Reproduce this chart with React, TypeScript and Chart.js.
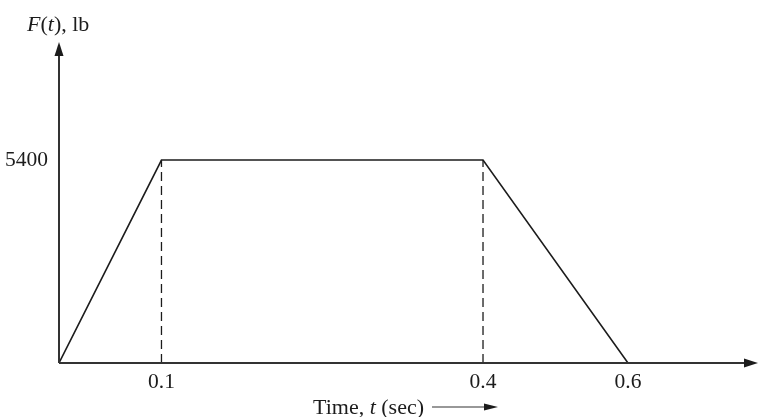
import React, { useEffect, useRef } from "react";
import { Chart, registerables, LinearScale } from "chart.js";

Chart.register(...registerables);

// ---- data ----
const timeValues = [0, 0.1, 0.4, 0.6];
const forceValues = [0, 5400, 5400, 0];
const xTickValues = [0.1, 0.4, 0.6];
const yTickValues = [5400];
const dashedAt = [0.1, 0.4];

// schematic (non-uniform) spacing of the time axis, as drawn in the figure
const warpValues = [0, 0.1, 0.4, 0.6, 0.75];
const warpFractions = [0, 0.1466, 0.6066, 0.814, 1];

function interp(v: number, xs: number[], ys: number[]) {
  if (v <= xs[0]) return ys[0];
  for (let i = 1; i < xs.length; i++) {
    if (v <= xs[i]) {
      const t = (v - xs[i - 1]) / (xs[i] - xs[i - 1]);
      return ys[i - 1] + t * (ys[i] - ys[i - 1]);
    }
  }
  const n = xs.length - 1;
  const t = (v - xs[n - 1]) / (xs[n] - xs[n - 1]);
  return ys[n - 1] + t * (ys[n] - ys[n - 1]);
}

class SchematicScale extends (LinearScale as any) {
  static id = "schematic";
  static defaults = (LinearScale as any).defaults;
  getPixelForValue(value: number) {
    return (this as any).getPixelForDecimal(interp(value, warpValues, warpFractions));
  }
  getValueForPixel(pixel: number) {
    return interp((this as any).getDecimalForPixel(pixel), warpFractions, warpValues);
  }
}
Chart.register(SchematicScale as any);

const FONT = "'Liberation Serif', 'Times New Roman', serif";
const INK = "#1c1c1c";

function drawMixed(ctx: CanvasRenderingContext2D, parts: [string, boolean][], x: number, y: number, size: number) {
  let cx = x;
  for (const [txt, italic] of parts) {
    ctx.font = `${italic ? "italic " : ""}${size}px ${FONT}`;
    ctx.fillText(txt, cx, y);
    cx += ctx.measureText(txt).width;
  }
  return cx;
}

const axesPlugin = {
  id: "axesArrows",
  afterDatasetsDraw(chart: any) {
    const { ctx, chartArea } = chart;
    const { left, right, top, bottom } = chartArea;
    ctx.save();
    ctx.strokeStyle = "#333";
    ctx.fillStyle = INK;
    ctx.lineWidth = 2;
    // x axis
    ctx.beginPath();
    ctx.moveTo(left, bottom);
    ctx.lineTo(right - 10, bottom);
    ctx.stroke();
    ctx.beginPath();
    ctx.moveTo(right, bottom);
    ctx.lineTo(right - 14, bottom - 4.5);
    ctx.lineTo(right - 14, bottom + 4.5);
    ctx.closePath();
    ctx.fill();
    // y axis
    ctx.beginPath();
    ctx.moveTo(left, bottom);
    ctx.lineTo(left, top + 10);
    ctx.stroke();
    ctx.beginPath();
    ctx.moveTo(left, top);
    ctx.lineTo(left - 4.5, top + 14);
    ctx.lineTo(left + 4.5, top + 14);
    ctx.closePath();
    ctx.fill();

    // axis titles
    ctx.textBaseline = "middle";
    ctx.textAlign = "left";
    drawMixed(ctx, [["F", true], ["(", false], ["t", true], ["), lb", false]], left - 32, top - 17, 22);
    const endX = drawMixed(ctx, [["Time, ", false], ["t", true], [" (sec)", false]], 313, bottom + 45, 22);
    const ay = bottom + 44;
    ctx.lineWidth = 1.2;
    ctx.beginPath();
    ctx.moveTo(endX + 8, ay);
    ctx.lineTo(endX + 62, ay);
    ctx.stroke();
    ctx.beginPath();
    ctx.moveTo(endX + 74, ay);
    ctx.lineTo(endX + 60, ay - 3.5);
    ctx.lineTo(endX + 60, ay + 3.5);
    ctx.closePath();
    ctx.fill();
    ctx.restore();
  },
};

export default function App() {
  const ref = useRef<HTMLCanvasElement>(null);
  useEffect(() => {
    if (!ref.current) return;
    const mainData = timeValues.map((t, i) => ({ x: t, y: forceValues[i] }));
    const dashedSets = dashedAt.map((t) => ({
      data: [
        { x: t, y: 0 },
        { x: t, y: forceValues[timeValues.indexOf(t)] },
      ],
      borderColor: INK,
      borderWidth: 1.3,
      borderDash: [9, 5],
      pointRadius: 0,
      fill: false,
    }));
    const chart = new Chart(ref.current, {
      type: "line",
      data: {
        datasets: [
          {
            data: mainData,
            borderColor: INK,
            borderWidth: 1.6,
            pointRadius: 0,
            fill: false,
            tension: 0,
          },
          ...dashedSets,
        ] as any,
      },
      plugins: [axesPlugin],
      options: {
        animation: false,
        responsive: false,
        layout: { padding: { top: 42, right: 6, left: 0, bottom: 0 } },
        plugins: { legend: { display: false }, tooltip: { enabled: false } },
        scales: {
          x: {
            type: "schematic" as any,
            min: 0,
            max: 0.75,
            border: { display: false },
            grid: { display: false, drawTicks: false },
            afterBuildTicks: (s: any) => {
              s.ticks = xTickValues.map((v) => ({ value: v }));
            },
            afterFit: (s: any) => {
              s.height = 54;
            },
            ticks: {
              padding: 6,
              maxRotation: 0,
              autoSkip: false,
              color: INK,
              font: { family: FONT, size: 21.5 },
              callback: (v: any) => String(v),
            },
          } as any,
          y: {
            type: "linear",
            min: 0,
            max: 8540,
            border: { display: false },
            grid: { display: false, drawTicks: false },
            afterBuildTicks: (s: any) => {
              s.ticks = yTickValues.map((v) => ({ value: v }));
            },
            afterFit: (s: any) => {
              s.width = 59;
            },
            ticks: {
              padding: 11,
              color: INK,
              font: { family: FONT, size: 21.5 },
              callback: (v: any) => String(v),
            },
          },
        },
      },
    });
    return () => chart.destroy();
  }, []);
  return (
    <div style={{ position: "fixed", left: 0, top: 0, width: 764, height: 417, background: "#fff" }}>
      <canvas ref={ref} width={764} height={417} />
    </div>
  );
}
